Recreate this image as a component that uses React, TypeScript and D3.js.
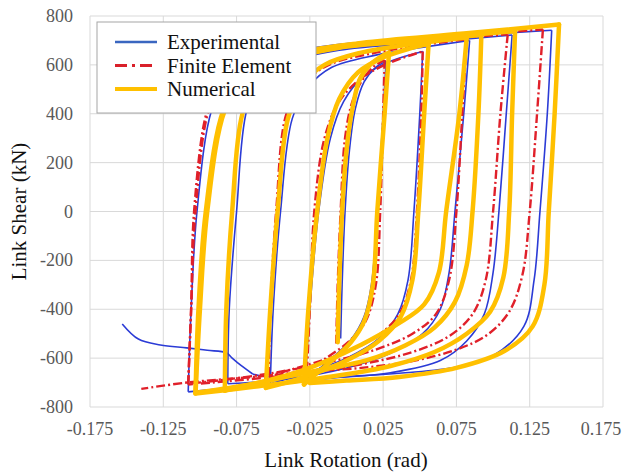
import React from "react";
import * as d3 from "d3";

const WIDTH = 622;
const HEIGHT = 474;
const MARGIN = { LEFT: 90, RIGHT: 19, TOP: 16, BOTTOM: 67 };
const FONT = "Liberation Serif";

const X_TICKS = [-0.175, -0.125, -0.075, -0.025, 0.025, 0.075, 0.125, 0.175];
const X_TICK_LABELS = ["-0.175", "-0.125", "-0.075", "-0.025", "0.025", "0.075", "0.125", "0.175"];
const Y_TICKS = [-800, -600, -400, -200, 0, 200, 400, 600, 800];
const Y_TICK_LABELS = ["-800", "-600", "-400", "-200", "0", "200", "400", "600", "800"];

const SERIES_NAMES = ["Experimental", "Finite Element", "Numerical"];
const SERIES_COLORS = ["#2b3bd6", "#e0202a", "#ffc000"];
const LEGEND_COLORS = ["#3a66c0", "#d9202a", "#ffc000"];

// [rotation (rad), shear (kN)], one array per branch
const experimental: [number, number][][] = [
  [[-0.004, -520], [-0.003, -300], [-0.001, 0], [0.002, 250], [0.006, 420], [0.012, 530], [0.020, 590], [0.027, 615]],
  [[0.027, 615], [0.025, 400], [0.021, 0], [0.017, -300], [0.012, -430], [0.003, -525], [-0.010, -600], [-0.022, -660], [-0.028, -690]],
  [[-0.028, -690], [-0.025, -400], [-0.019, 0], [-0.011, 300], [-0.002, 450], [0.012, 555], [0.030, 615], [0.052, 655]],
  [[0.052, 655], [0.050, 400], [0.046, 0], [0.042, -280], [0.035, -420], [0.022, -520], [0.000, -600], [-0.030, -665], [-0.052, -705]],
  [[-0.052, -705], [-0.050, -400], [-0.045, 0], [-0.037, 380], [-0.026, 510], [-0.010, 590], [0.020, 640], [0.050, 670], [0.084, 700]],
  [[0.084, 700], [0.080, 400], [0.074, 0], [0.070, -250], [0.064, -400], [0.052, -500], [0.030, -580], [0.000, -640], [-0.040, -685], [-0.081, -705]],
  [[-0.081, -705], [-0.080, -400], [-0.075, 0], [-0.068, 415], [-0.058, 540], [-0.040, 610], [-0.005, 660], [0.050, 690], [0.113, 722]],
  [[0.113, 722], [0.109, 400], [0.104, 0], [0.100, -250], [0.094, -420], [0.082, -530], [0.064, -610], [0.030, -660], [-0.010, -682], [-0.060, -710], [-0.108, -738]],
  [[-0.108, -738], [-0.106, -400], [-0.102, 0], [-0.092, 415], [-0.080, 560], [-0.055, 630], [-0.010, 680], [0.060, 712], [0.140, 742]],
  [[0.140, 742], [0.137, 400], [0.132, 0], [0.128, -280], [0.121, -470], [0.100, -590], [0.075, -636], [0.040, -660], [0.000, -675], [-0.040, -682], [-0.058, -673], [-0.064, -665]],
  [[-0.064, -665], [-0.072, -630], [-0.078, -600], [-0.082, -578], [-0.095, -568], [-0.109, -558], [-0.127, -546], [-0.142, -522], [-0.153, -460]],
];

const finiteElement: [number, number][][] = [
  [[-0.007, -540], [-0.006, -300], [-0.004, 0], [-0.001, 300], [0.004, 450], [0.011, 540], [0.019, 595], [0.026, 620]],
  [[0.026, 620], [0.025, 400], [0.023, 0], [0.020, -300], [0.013, -450], [0.002, -530], [-0.014, -600], [-0.027, -650]],
  [[-0.027, -650], [-0.025, -400], [-0.022, 0], [-0.015, 300], [-0.005, 450], [0.010, 545], [0.030, 610], [0.052, 655]],
  [[0.052, 655], [0.051, 400], [0.048, 0], [0.044, -280], [0.036, -420], [0.022, -505], [0.000, -575], [-0.025, -625], [-0.053, -672]],
  [[-0.053, -672], [-0.052, -400], [-0.048, 0], [-0.041, 400], [-0.030, 520], [-0.012, 600], [0.020, 650], [0.050, 680], [0.082, 705]],
  [[0.082, 705], [0.079, 400], [0.075, 0], [0.070, -280], [0.061, -420], [0.045, -500], [0.020, -565], [-0.015, -620], [-0.060, -670], [-0.108, -705]],
  [[-0.108, -705], [-0.106, -400], [-0.104, 0], [-0.095, 415], [-0.085, 540], [-0.060, 620], [-0.015, 670], [0.050, 700], [0.110, 725]],
  [[0.110, 725], [0.105, 400], [0.100, 0], [0.095, -280], [0.086, -420], [0.070, -510], [0.045, -575], [0.010, -625], [-0.040, -670], [-0.108, -708]],
  [[-0.108, -708], [-0.106, -400], [-0.103, 0], [-0.094, 415], [-0.083, 545], [-0.058, 625], [-0.010, 675], [0.060, 710], [0.134, 745]],
  [[0.134, 745], [0.130, 400], [0.125, 0], [0.120, -260], [0.111, -410], [0.096, -505], [0.075, -565], [0.045, -612], [0.010, -640], [-0.027, -655], [-0.060, -675], [-0.109, -700], [-0.140, -726]],
];

const numerical: [number, number][][] = [
  [[-0.006, -535], [-0.005, -300], [-0.003, 0], [0.000, 250], [0.004, 420], [0.009, 540], [0.016, 600], [0.024, 635], [0.029, 650]],
  [[0.029, 650], [0.026, 400], [0.021, 0], [0.018, -300], [0.012, -450], [0.003, -535], [-0.010, -610], [-0.022, -670], [-0.029, -708]],
  [[-0.029, -708], [-0.026, -400], [-0.020, 0], [-0.013, 300], [-0.005, 460], [0.008, 570], [0.025, 630], [0.042, 665], [0.056, 685]],
  [[0.056, 685], [0.053, 400], [0.049, 0], [0.045, -280], [0.037, -430], [0.022, -530], [0.000, -610], [-0.030, -680], [-0.055, -722]],
  [[-0.055, -722], [-0.052, -400], [-0.047, 0], [-0.040, 380], [-0.030, 520], [-0.015, 600], [0.010, 650], [0.045, 685], [0.082, 712]],
  [[0.082, 712], [0.077, 400], [0.068, 0], [0.063, -250], [0.053, -380], [0.035, -460], [0.010, -545], [-0.030, -650], [-0.083, -733]],
  [[-0.083, -733], [-0.082, -400], [-0.078, 0], [-0.071, 400], [-0.060, 540], [-0.040, 620], [-0.005, 670], [0.040, 695], [0.092, 722]],
  [[0.092, 722], [0.090, 400], [0.086, 0], [0.082, -220], [0.074, -370], [0.060, -475], [0.040, -548], [0.014, -608], [-0.032, -665], [-0.070, -712], [-0.103, -742]],
  [[-0.103, -742], [-0.101, -400], [-0.096, 0], [-0.084, 415], [-0.070, 560], [-0.045, 630], [0.000, 680], [0.060, 710], [0.115, 738]],
  [[0.115, 738], [0.113, 400], [0.111, 0], [0.107, -270], [0.098, -410], [0.082, -500], [0.060, -575], [0.030, -632], [-0.010, -675], [-0.060, -715], [-0.103, -745]],
  [[-0.103, -745], [-0.100, -400], [-0.095, 0], [-0.083, 415], [-0.068, 565], [-0.040, 640], [0.010, 690], [0.080, 728], [0.145, 765]],
  [[0.145, 765], [0.142, 400], [0.138, 0], [0.135, -300], [0.127, -470], [0.108, -570], [0.075, -640], [0.036, -677], [0.000, -692], [-0.025, -702]],
];

const xScale = d3
  .scaleLinear()
  .domain([-0.175, 0.175])
  .range([MARGIN.LEFT, WIDTH - MARGIN.RIGHT]);
const yScale = d3
  .scaleLinear()
  .domain([-800, 800])
  .range([HEIGHT - MARGIN.BOTTOM, MARGIN.TOP]);

const line = d3
  .line<[number, number]>()
  .x((d) => xScale(d[0]))
  .y((d) => yScale(d[1]))
  .curve(d3.curveCatmullRom.alpha(0.5));

const App = () => {
  const left = MARGIN.LEFT;
  const right = WIDTH - MARGIN.RIGHT;
  const top = MARGIN.TOP;
  const bottom = HEIGHT - MARGIN.BOTTOM;

  return (
    <svg
      width={WIDTH}
      height={HEIGHT}
      style={{ position: "absolute", left: 0, top: 0, display: "block", background: "#fff" }}
    >
      {/* grid */}
      <g stroke="#d9d9d9" strokeWidth={1}>
        {X_TICKS.map((t) => (
          <line key={"gx" + t} x1={xScale(t)} x2={xScale(t)} y1={top} y2={bottom} />
        ))}
        {Y_TICKS.map((t) => (
          <line key={"gy" + t} x1={left} x2={right} y1={yScale(t)} y2={yScale(t)} />
        ))}
      </g>

      {/* tick labels */}
      <g fill="#595959" fontFamily={FONT} fontSize={18}>
        {X_TICKS.map((t, i) => (
          <text
            key={"tx" + t}
            x={xScale(t) - (i === X_TICKS.length - 1 ? 2 : 0)}
            y={bottom + 28}
            textAnchor="middle"
          >
            {X_TICK_LABELS[i]}
          </text>
        ))}
        {Y_TICKS.map((t, i) => (
          <text key={"ty" + t} x={left - 17} y={yScale(t) + 6} textAnchor="end">
            {Y_TICK_LABELS[i]}
          </text>
        ))}
      </g>

      {/* series, one path per branch */}
      <g fill="none" stroke={SERIES_COLORS[0]} strokeWidth={1.6}>
        {experimental.map((b, i) => (
          <path key={"e" + i} d={line(b) ?? ""} />
        ))}
      </g>
      <g fill="none" stroke={SERIES_COLORS[1]} strokeWidth={2.4} strokeDasharray="9,3,2,3">
        {finiteElement.map((b, i) => (
          <path key={"f" + i} d={line(b) ?? ""} />
        ))}
      </g>
      <g
        fill="none"
        stroke={SERIES_COLORS[2]}
        strokeWidth={4.5}
        strokeLinejoin="round"
        strokeLinecap="round"
      >
        {numerical.map((b, i) => (
          <path key={"n" + i} d={line(b) ?? ""} />
        ))}
      </g>

      {/* legend */}
      <g transform="translate(97,22)">
        <rect width={219} height={91} fill="#fff" stroke="#a6a6a6" strokeWidth={1} />
        {SERIES_NAMES.map((name, i) => (
          <g key={name} transform={`translate(0,${20 + i * 23.5})`}>
            <line
              x1={18}
              x2={60}
              stroke={LEGEND_COLORS[i]}
              strokeWidth={i === 2 ? 4 : i === 1 ? 3 : 2.5}
              strokeDasharray={i === 1 ? "12,5,3,5" : undefined}
            />
            <text x={70} y={7} fill="#111" fontFamily={FONT} fontSize={21}>
              {name}
            </text>
          </g>
        ))}
      </g>

      {/* axis titles */}
      <text x={346} y={467} textAnchor="middle" fill="#111" fontFamily={FONT} fontSize={21}>
        Link Rotation (rad)
      </text>
      <text
        transform={`translate(26,${(top + bottom) / 2}) rotate(-90)`}
        textAnchor="middle"
        fill="#111"
        fontFamily={FONT}
        fontSize={21}
      >
        Link Shear (kN)
      </text>
    </svg>
  );
};

export default App;
